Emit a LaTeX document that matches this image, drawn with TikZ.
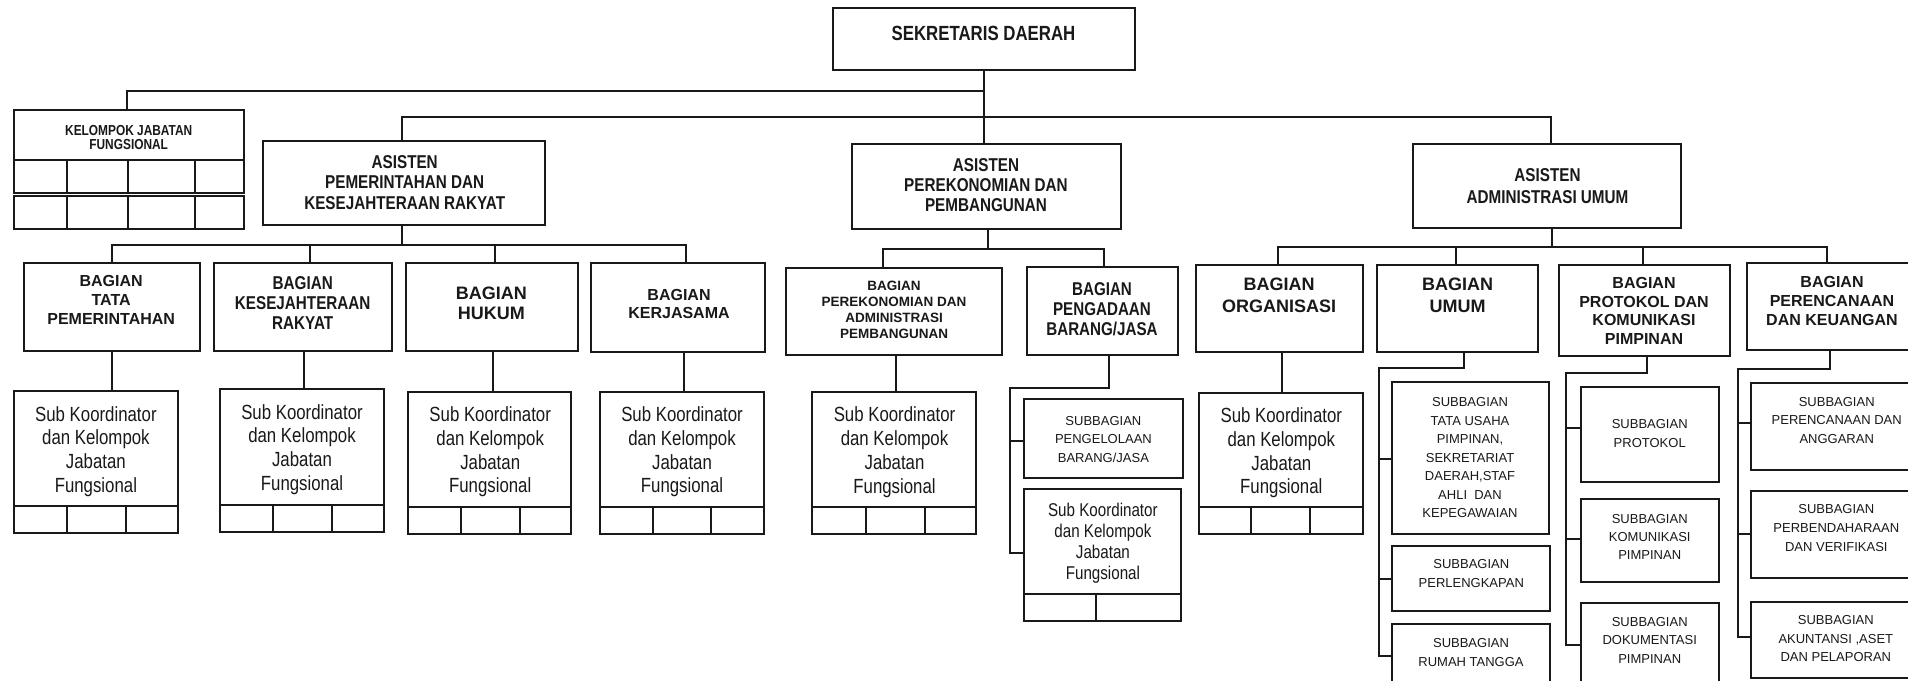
\documentclass[tikz,border=0pt]{standalone}
\usepackage{fontspec}
\setmainfont{Liberation Sans}
\newfontfamily\nar[FakeStretch=0.82]{Liberation Sans}
\definecolor{ink}{RGB}{25,25,25}
\newcommand\fs[2]{\fontsize{#1}{#2}\selectfont}
\newcommand\bxn[5]{\node[bx,minimum width={#4-#2},minimum height={#5-#3}] (#1) at ({(#2+#4)/2},{(#3+#5)/2}) {};}
\newcommand\txt[5]{\node[tx,font=#4] (#1) at (#2,#3) {#5};}
\begin{document}
\begin{tikzpicture}[x=1pt,y=-1pt,
  bx/.style={draw=ink,line width=2pt,inner sep=0pt,outer sep=0pt},
  ln/.style={draw=ink,line width=2pt},
  tx/.style={inner sep=0pt,align=center,text=ink}]
\useasboundingbox (0,0) rectangle (1908,680);
\clip (0,0) rectangle (1908,680);
\fill[white] (0,0) rectangle (1908,680);
% ---- boxes
\bxn{sekda}{833}{8}{1135}{70}
\bxn{kjf}{14}{110}{244}{160}
\bxn{as1}{263}{141}{545}{225}
\bxn{as2}{852}{144}{1121}{229}
\bxn{as3}{1413}{144}{1681}{228}
\bxn{b11}{24}{263}{200}{351}
\bxn{b12}{214}{263}{392}{351}
\bxn{b13}{406}{263}{578}{351}
\bxn{b14}{591}{263}{765}{352}
\bxn{b21}{786}{268}{1002}{355}
\bxn{b22}{1027}{267}{1178}{355}
\bxn{b31}{1196}{265}{1363}{352}
\bxn{b32}{1377}{265}{1538}{352}
\bxn{b33}{1559}{265}{1730}{356}
\bxn{b34}{1747}{263}{1917}{350}
\bxn{sk1}{14}{391}{178}{506}
\bxn{sk2}{220}{389}{384}{505}
\bxn{sk3}{408}{392}{571}{507}
\bxn{sk4}{600}{392}{764}{507}
\bxn{sk5}{812}{392}{976}{507}
\bxn{sp1}{1024}{399}{1183}{478}
\bxn{sk6}{1024}{489}{1181}{594}
\bxn{sk7}{1199}{393}{1363}{507}
\bxn{s31}{1392}{382}{1549}{534}
\bxn{s32}{1392}{546}{1550}{611}
\bxn{s33}{1392}{624}{1550}{690}
\bxn{s41}{1581}{387}{1719}{482}
\bxn{s42}{1581}{499}{1719}{582}
\bxn{s43}{1581}{603}{1719}{690}
\bxn{s51}{1751}{383}{1923}{470}
\bxn{s52}{1751}{491}{1923}{578}
\bxn{s53}{1751}{602}{1923}{678}
% ---- cell rows
\draw[ln] (kjf.south west) rectangle (244,193);
\draw[ln] (14,196) rectangle (244,229);
\foreach \xx in {67,128,195}{\draw[ln] (\xx,160) -- (\xx,193); \draw[ln] (\xx,196) -- (\xx,229);}
\draw[ln] (sk1.south west) rectangle (178,533);
\foreach \xx in {67,126}{\draw[ln] (\xx,506) -- (\xx,533);}
\draw[ln] (sk2.south west) rectangle (384,532);
\foreach \xx in {273,332}{\draw[ln] (\xx,505) -- (\xx,532);}
\draw[ln] (sk3.south west) rectangle (571,534);
\foreach \xx in {461,520}{\draw[ln] (\xx,507) -- (\xx,534);}
\draw[ln] (sk4.south west) rectangle (764,534);
\foreach \xx in {653,711}{\draw[ln] (\xx,507) -- (\xx,534);}
\draw[ln] (sk5.south west) rectangle (976,534);
\foreach \xx in {866,925}{\draw[ln] (\xx,507) -- (\xx,534);}
\draw[ln] (sk6.south west) rectangle (1181,621);
\draw[ln] (1096,594) -- (1096,621);
\draw[ln] (sk7.south west) rectangle (1363,534);
\foreach \xx in {1251,1310}{\draw[ln] (\xx,507) -- (\xx,534);}
% ---- connectors
\coordinate (j1) at (984,91);
\coordinate (j2) at (984,117);
\draw[ln] (sekda.south) -- (sekda.south |- as2.north);
\draw[ln] (kjf.north -| 127,0) |- (j1);
\draw[ln] (as1.north -| 402,0) |- (j2) -| (as3.north -| 1551,0);
\coordinate (bus1) at (0,245);
\draw[ln] (as1.south -| 402,0) -- (bus1 -| 402,0);
\draw[ln] (b11.north) |- (bus1 -| 686,0) -- (b14.north -| 686,0);
\draw[ln] (bus1 -| 310,0) -- (b12.north -| 310,0);
\draw[ln] (bus1 -| 495,0) -- (b13.north -| 495,0);
\draw[ln] (b11.south) -- (b11.south |- sk1.north);
\draw[ln] (b12.south -| 304,0) -- (sk2.north -| 304,0);
\draw[ln] (b13.south -| 493,0) -- (sk3.north -| 493,0);
\draw[ln] (b14.south -| 684,0) -- (sk4.north -| 684,0);
\coordinate (bus2) at (0,249);
\draw[ln] (as2.south -| 988,0) -- (bus2 -| 988,0);
\draw[ln] (b21.north -| 883,0) |- (bus2 -| 1104,0) -- (b22.north -| 1104,0);
\draw[ln] (b21.south -| 896,0) -- (sk5.north -| 896,0);
\coordinate (e22) at (1010,388);
\draw[ln] (b22.south -| 1109,0) |- (e22) -- (e22 |- 0,553) -- (sk6.west |- 0,553);
\draw[ln] (e22 |- 0,441) -- (sp1.west |- 0,441);
\coordinate (bus3) at (0,247);
\draw[ln] (as3.south -| 1552,0) -- (bus3 -| 1552,0);
\draw[ln] (b31.north -| 1278,0) |- (bus3 -| 1827,0) -- (b34.north -| 1827,0);
\draw[ln] (bus3 -| 1456,0) -- (b32.north -| 1456,0);
\draw[ln] (bus3 -| 1643,0) -- (b33.north -| 1643,0);
\draw[ln] (b31.south -| 1282,0) -- (sk7.north -| 1282,0);
\coordinate (e32) at (1379,368);
\draw[ln] (b32.south -| 1464,0) |- (e32) -- (e32 |- 0,656) -- (s33.west |- 0,656);
\draw[ln] (e32 |- 0,459) -- (s31.west |- 0,459);
\draw[ln] (e32 |- 0,579) -- (s32.west |- 0,579);
\coordinate (e33) at (1566,373);
\draw[ln] (b33.south -| 1647,0) |- (e33) -- (e33 |- 0,645) -- (s43.west |- 0,645);
\draw[ln] (e33 |- 0,428) -- (s41.west |- 0,428);
\draw[ln] (e33 |- 0,539) -- (s42.west |- 0,539);
\coordinate (e34) at (1738,369);
\draw[ln] (b34.south -| 1830,0) |- (e34) -- (e34 |- 0,637) -- (s53.west |- 0,637);
\draw[ln] (e34 |- 0,423) -- (s51.west |- 0,423);
\draw[ln] (e34 |- 0,534) -- (s52.west |- 0,534);
% ---- texts
\txt{sekda-t}{983.5}{33.3}{\nar\bfseries\fs{20.5}{23}}{SEKRETARIS DAERAH}
\txt{kjf-t}{128.7}{137.5}{\nar\bfseries\fs{14.5}{13.5}}{KELOMPOK JABATAN\\FUNGSIONAL}
\txt{as1-t}{404.7}{182.5}{\nar\bfseries\fs{18.6}{20.8}}{ASISTEN\\PEMERINTAHAN DAN\\KESEJAHTERAAN RAKYAT}
\txt{as2-t}{986}{185}{\nar\bfseries\fs{18.6}{20}}{ASISTEN\\PEREKONOMIAN DAN\\PEMBANGUNAN}
\txt{as3-t}{1547.5}{186}{\nar\bfseries\fs{18.6}{21.5}}{ASISTEN\\ADMINISTRASI UMUM}
\txt{b11-t}{111.2}{299.5}{\bfseries\fs{16}{19}}{BAGIAN\\TATA\\PEMERINTAHAN}
\txt{b12-t}{302.7}{303}{\nar\bfseries\fs{18.6}{20.3}}{BAGIAN\\KESEJAHTERAAN\\RAKYAT}
\txt{b13-t}{491.4}{303.3}{\bfseries\fs{18}{20}}{BAGIAN\\HUKUM}
\txt{b14-t}{679}{304}{\bfseries\fs{16}{17.7}}{BAGIAN\\KERJASAMA}
\txt{b21-t}{894}{310}{\bfseries\fs{13.5}{16.2}}{BAGIAN\\PEREKONOMIAN DAN\\ADMINISTRASI\\PEMBANGUNAN}
\txt{b22-t}{1102}{309}{\nar\bfseries\fs{18.5}{20}}{BAGIAN\\PENGADAAN\\BARANG/JASA}
\txt{b31-t}{1279}{295.3}{\bfseries\fs{18}{22.7}}{BAGIAN\\ORGANISASI}
\txt{b32-t}{1457.5}{295.3}{\bfseries\fs{18}{22.7}}{BAGIAN\\UMUM}
\txt{b33-t}{1644}{311}{\bfseries\fs{16}{18.7}}{BAGIAN\\PROTOKOL DAN\\KOMUNIKASI\\PIMPINAN}
\txt{b34-t}{1832}{301}{\bfseries\fs{16}{19.2}}{BAGIAN\\PERENCANAAN\\DAN KEUANGAN}
\txt{sk1-t}{95.9}{451.5}{\nar\fs{20.5}{23.7}}{Sub Koordinator\\dan Kelompok\\Jabatan\\Fungsional}
\txt{sk2-t}{302}{449.3}{\nar\fs{20.5}{23.7}}{Sub Koordinator\\dan Kelompok\\Jabatan\\Fungsional}
\txt{sk3-t}{490.2}{452}{\nar\fs{20.5}{23.7}}{Sub Koordinator\\dan Kelompok\\Jabatan\\Fungsional}
\txt{sk4-t}{682}{452}{\nar\fs{20.5}{23.7}}{Sub Koordinator\\dan Kelompok\\Jabatan\\Fungsional}
\txt{sk5-t}{894.5}{452}{\nar\fs{20.5}{24}}{Sub Koordinator\\dan Kelompok\\Jabatan\\Fungsional}
\txt{sk6-t}{1102.9}{543.5}{\nar\fs{18.5}{21}}{Sub Koordinator\\dan Kelompok\\Jabatan\\Fungsional}
\txt{sk7-t}{1281.3}{453}{\nar\fs{20.5}{23.7}}{Sub Koordinator\\dan Kelompok\\Jabatan\\Fungsional}
\txt{sp1-t}{1103.4}{439.5}{\fs{13}{18.6}}{SUBBAGIAN\\PENGELOLAAN\\BARANG/JASA}
\txt{s31-t}{1470}{458}{\fs{13}{18.5}}{SUBBAGIAN\\TATA USAHA\\PIMPINAN,\\SEKRETARIAT\\DAERAH,STAF\\AHLI\ \ DAN\\KEPEGAWAIAN}
\txt{s32-t}{1471.3}{573.5}{\fs{13}{19}}{SUBBAGIAN\\PERLENGKAPAN}
\txt{s33-t}{1471}{652.5}{\fs{13}{18.5}}{SUBBAGIAN\\RUMAH TANGGA}
\txt{s41-t}{1649.7}{433.5}{\fs{13}{19}}{SUBBAGIAN\\PROTOKOL}
\txt{s42-t}{1649.7}{537}{\fs{13}{18}}{SUBBAGIAN\\KOMUNIKASI\\PIMPINAN}
\txt{s43-t}{1649.7}{640.3}{\fs{13}{18.7}}{SUBBAGIAN\\DOKUMENTASI\\PIMPINAN}
\txt{s51-t}{1836.7}{420.5}{\fs{13}{18.5}}{SUBBAGIAN\\PERENCANAAN DAN\\ANGGARAN}
\txt{s52-t}{1836.3}{528}{\fs{13}{19}}{SUBBAGIAN\\PERBENDAHARAAN\\DAN VERIFIKASI}
\txt{s53-t}{1835.8}{639}{\fs{13}{18.5}}{SUBBAGIAN\\AKUNTANSI ,ASET\\DAN PELAPORAN}
\end{tikzpicture}
\end{document}
